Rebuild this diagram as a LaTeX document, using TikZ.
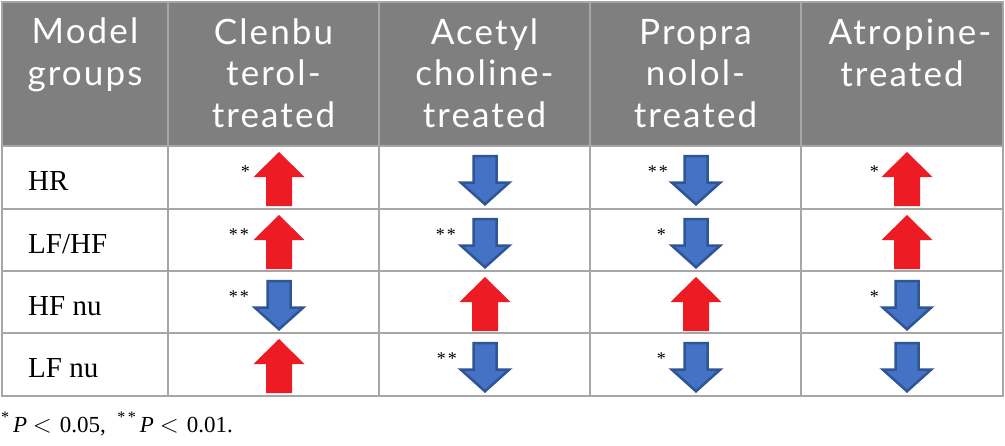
\documentclass[tikz,border=0pt]{standalone}
\usepackage{fontspec}
\setmainfont{Liberation Serif}
\newfontfamily\hdrfont[LetterSpace=6]{Lato}
\definecolor{hdrgray}{HTML}{7F7F7F}
\definecolor{gridgray}{HTML}{A6A6A6}
\definecolor{upred}{HTML}{ED1C24}
\definecolor{downfill}{HTML}{4472C4}
\definecolor{downline}{HTML}{2F5597}
\tikzset{
  hdr/.style={font=\hdrfont\fontsize{35}{41.5}\selectfont, text=white, align=center, anchor=base, inner sep=0pt},
  rowlbl/.style={font=\fontsize{29}{34}\selectfont, anchor=base west, inner sep=0pt},
  sig/.style={font=\fontsize{18}{18}\selectfont, anchor=base east, inner sep=0pt},
  gridline/.style={draw=gridgray, line width=2.5pt},
  uparr/.pic={\fill[upred] (0,0) -- (25.5,25) -- (13,25) -- (13,54) -- (-13,54) -- (-13,25) -- (-25.5,25) -- cycle;},
  downarr/.pic={\filldraw[fill=downfill, draw=downline, line width=2.5pt, line join=miter]
     (-11.5,1.2) -- (11.5,1.2) -- (11.5,27.5) -- (24.3,27.5) -- (0,49.3) -- (-24.3,27.5) -- (-11.5,27.5) -- cycle;}
}
\begin{document}
\begin{tikzpicture}[x=1pt,y=-1pt]
\useasboundingbox (0,0) rectangle (1005,445);
\fill[white] (0,0) rectangle (1005,445);
% header background
\fill[hdrgray] (2,2) rectangle (1003,146);
% grid
\draw[gridline] (2,2) rectangle (1003,396);
\foreach \xx in {168,379,590,801} \draw[gridline] (\xx,2) -- (\xx,396);
\foreach \yy in {146,209,271,333} \draw[gridline] (2,\yy) -- (1003,\yy);
% header texts (base anchor = last line)
\node[hdr] (h1) at (85,85) {Model\\groups};
\node[hdr] (h2) at (273.5,127) {Clenbu\\terol-\\treated};
\node[hdr] (h3) at (484.5,127) {Acetyl\\choline-\\treated};
\node[hdr] (h4) at (695.5,127) {Propra\\nolol-\\treated};
\node[hdr] (h5) at (902,86) {\hspace*{16pt}Atropine-\\treated};
% row labels
\node[rowlbl] (r1) at (28,190.5) {HR};
\node[rowlbl] (r2) at (28,253.5) {LF/HF};
\node[rowlbl] (r3) at (28,315.5) {HF nu};
\node[rowlbl] (r4) at (28,377.5) {LF nu};
% row 1 (top 146)
\pic at (279,152) {uparr};
\pic at (485,155) {downarr};
\pic at (696,155) {downarr};
\pic at (907,152) {uparr};
% row 2 (top 209)
\pic at (279,215) {uparr};
\pic at (485,218) {downarr};
\pic at (696,218) {downarr};
\pic at (907,215) {uparr};
% row 3 (top 271)
\pic at (279,280) {downarr};
\pic at (485,277) {uparr};
\pic at (696,277) {uparr};
\pic at (907,280) {downarr};
% row 4 (top 333)
\pic at (279,339) {uparr};
\pic at (485,342) {downarr};
\pic at (696,342) {downarr};
\pic at (907,342) {downarr};
% significance marks
\node[sig] (s11) at (250,177) {*};
\node[sig] (s14) at (668,177) {*\hspace{2pt}*};
\node[sig] (s15) at (879,177) {*};
\node[sig] (s21) at (249,240) {*\hspace{2pt}*};
\node[sig] (s22) at (456,240) {*\hspace{2pt}*};
\node[sig] (s23) at (666,240) {*};
\node[sig] (s31) at (249,302) {*\hspace{2pt}*};
\node[sig] (s34) at (879,302) {*};
\node[sig] (s42) at (457,364) {*\hspace{2pt}*};
\node[sig] (s43) at (666,364) {*};
% footnote
\node[anchor=base west, inner sep=0pt, font=\fontsize{23}{26}\selectfont] (fn) at (1,432)
  {\textsuperscript{*}\hspace{0.15em}\textit{P}\hspace{0.25em}$<$\hspace{0.35em}0.05,\hspace{0.5em}\textsuperscript{*\hspace{0.15em}*}\hspace{0.15em}\textit{P}\hspace{0.25em}$<$\hspace{0.35em}0.01.};
\end{tikzpicture}
\end{document}
